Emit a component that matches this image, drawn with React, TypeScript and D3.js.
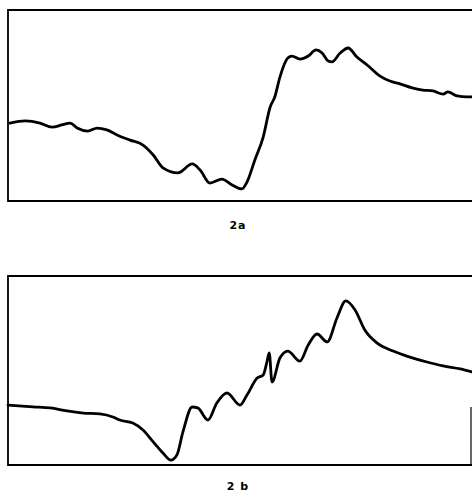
import React, { useEffect, useRef } from 'react';
import * as d3 from 'd3';

// spectrum 2a (x in % of sweep, y in % of panel height)
const xA = [0.4, 3.7, 6.9, 9.5, 11.6, 13.4, 14.9, 17.2, 19.2, 21.3, 23.5, 26.3, 29.1, 31.3, 33.4, 36.6, 39.7, 41.4, 43.5, 46.1, 48.3, 50.4, 51.5, 53.2, 55.0, 56.5, 57.5, 58.6, 60.3, 61.2, 62.9, 64.7, 66.4, 67.7, 69.0, 69.8, 71.6, 73.3, 75.2, 77.4, 80.2, 82.3, 84.5, 87.1, 89.4, 91.6, 93.8, 94.8, 96.8, 98.9, 100];
const yA = [40.8, 41.9, 40.8, 38.7, 39.8, 40.8, 38.2, 36.6, 38.2, 37.2, 34.6, 31.9, 29.3, 24.1, 17.3, 14.7, 19.4, 16.2, 9.4, 11.5, 8.4, 6.3, 9.9, 21.5, 33.5, 49.2, 54.5, 64.9, 74.9, 75.9, 74.3, 75.9, 79.1, 77.5, 73.3, 72.8, 77.5, 80.1, 75.4, 71.2, 65.4, 62.8, 61.3, 59.2, 58.1, 57.6, 56.0, 57.1, 55.0, 54.5, 54.5];

// spectrum 2b
const xB = [0, 5.4, 9.1, 12.7, 16.2, 19.8, 22.6, 24.1, 26.9, 29.1, 31.3, 33.4, 35.1, 36.4, 37.7, 39.7, 40.9, 43.1, 45.0, 47.2, 50.0, 51.5, 53.7, 55.0, 55.8, 56.3, 56.9, 58.6, 60.3, 62.9, 64.7, 66.6, 68.8, 70.9, 72.8, 74.8, 76.9, 79.5, 83.0, 86.6, 90.3, 93.8, 97.5, 100];
const yB = [31.7, 30.8, 30.2, 28.6, 27.5, 27.0, 25.4, 23.8, 22.2, 18.5, 12.2, 6.3, 2.6, 5.3, 17.5, 30.7, 30.2, 23.8, 32.8, 38.1, 31.7, 37.0, 46.0, 47.6, 54.5, 59.3, 43.9, 56.6, 60.3, 55.0, 63.5, 69.3, 65.1, 77.8, 86.8, 82.0, 71.4, 64.6, 60.3, 57.1, 54.5, 52.4, 50.8, 49.2];

const labels = ['2a', '2 b'];

export default function App() {
  const ref = useRef<SVGSVGElement>(null);

  useEffect(() => {
    const svg = d3.select(ref.current);
    svg.selectAll('*').remove();

    const x = d3.scaleLinear().domain([0, 100]).range([8, 472]);
    const panels = [
      { xs: xA, ys: yA, top: 10, bottom: 201, label: labels[0], ly: 229, rightEdge: null },
      { xs: xB, ys: yB, top: 276, bottom: 465, label: labels[1], ly: 490, rightEdge: 407 },
    ];

    panels.forEach((p) => {
      const y = d3.scaleLinear().domain([0, 100]).range([p.bottom, p.top]);
      const g = svg.append('g');

      // frame
      g.append('path')
        .attr('d', `M${x(100)},${p.top}H${x(0)}V${p.bottom}H${x(100)}`)
        .attr('fill', 'none')
        .attr('stroke', '#000')
        .attr('stroke-width', 1.8);
      if (p.rightEdge !== null) {
        g.append('line')
          .attr('x1', 471).attr('x2', 471)
          .attr('y1', p.rightEdge).attr('y2', p.bottom)
          .attr('stroke', '#000').attr('stroke-width', 1.2);
      }

      const pts = p.xs.map((v, i) => [v, p.ys[i]] as [number, number]);
      const line = d3.line<[number, number]>()
        .x((d) => x(d[0]))
        .y((d) => y(d[1]))
        .curve(d3.curveMonotoneX);

      g.append('path')
        .datum(pts)
        .attr('d', line)
        .attr('fill', 'none')
        .attr('stroke', '#000')
        .attr('stroke-width', 2.8)
        .attr('stroke-linejoin', 'round')
        .attr('stroke-linecap', 'round');

      g.append('text')
        .attr('x', 238)
        .attr('y', p.ly)
        .attr('text-anchor', 'middle')
        .attr('font-family', 'DejaVu Sans, sans-serif')
        .attr('font-weight', 'bold')
        .attr('font-size', 11)
        .attr('letter-spacing', 1)
        .text(p.label);
    });
  }, []);

  return (
    <svg ref={ref} width={472} height={493} style={{ position: 'absolute', left: 0, top: 0, background: '#fff' }} />
  );
}
